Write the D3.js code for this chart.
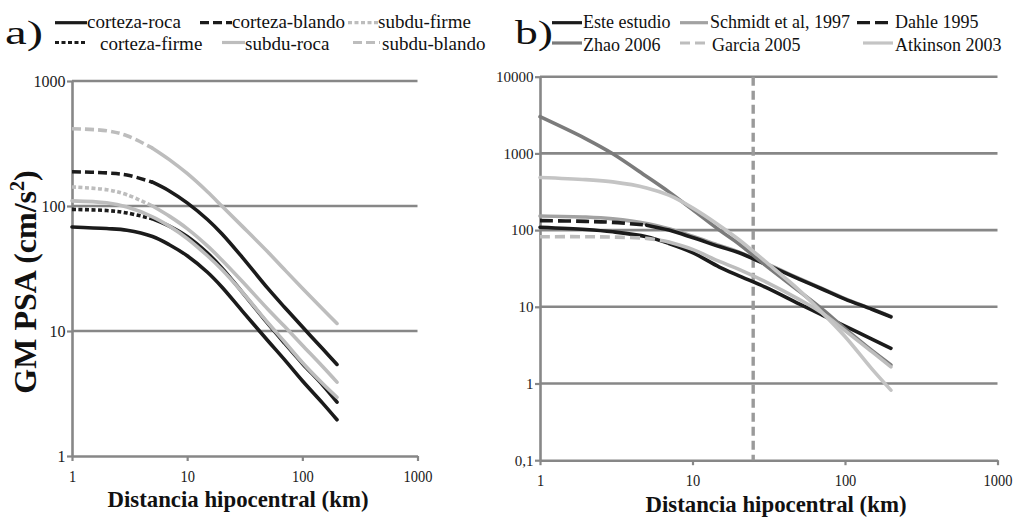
<!DOCTYPE html>
<html><head><meta charset="utf-8">
<script src="https://cdn.jsdelivr.net/npm/d3@7"></script>
<style>body{margin:0;background:#fff} svg{display:block} svg text{font-family:"Liberation Serif","DejaVu Serif",serif !important;}</style>
</head><body>
<svg id="chart" width="1022" height="523"></svg>
<script>
// ---------- DATA ----------
const distances = [1, 2, 3, 5, 7, 10, 15, 20, 30, 50, 70, 100, 150, 200];

// panel a)
const cortezaRoca   = [68, 66, 64, 57, 49, 40, 29.5, 22.5, 14.5, 8.4, 5.9, 4.0, 2.65, 1.95];
const cortezaBlando = [188, 184, 177, 155, 132, 106, 78, 60, 39, 22, 15.5, 10.8, 7.2, 5.4];
const subduFirme    = [142, 135, 123, 100, 83, 66, 48, 37, 25, 15, 10.9, 7.7, 5.2, 3.9];
const cortezaFirme  = [94, 92, 88, 79, 69, 57, 42, 32, 20.5, 11.5, 8.0, 5.5, 3.7, 2.7];
const subduRoca     = [110, 106, 98, 82, 69, 55, 40, 31, 20.5, 11.7, 8.2, 5.6, 3.8, 2.95];
const subduBlando   = [415, 400, 365, 290, 235, 182, 130, 100, 69, 43, 31, 22, 15, 11.5];
const seriesNamesA  = ["corteza-roca", "corteza-blando", "subdu-firme", "corteza-firme", "subdu-roca", "subdu-blando"];
const seriesValuesA = [cortezaRoca, cortezaBlando, subduFirme, cortezaFirme, subduRoca, subduBlando];

// panel b)
const esteEstudio  = [109, 102, 95, 82, 67, 51, 33, 25.5, 18, 10.9, 7.9, 5.6, 3.8, 2.88];
const schmidt1997  = [153, 148, 140, 122, 104, 83, 63, 52, 37, 23.5, 17.5, 12.8, 9.4, 7.5];
const dahle1995    = [133, 130, 126, 116, 100, 80, 61, 51, 36, 23, 17.2, 12.6, 9.3, 7.4];
const zhao2006     = [3010, 1550, 990, 500, 315, 185, 100, 67, 35, 16, 9.5, 5.2, 2.7, 1.75];
const garcia2005   = [82, 82, 81, 78, 70, 56, 39, 31, 21.3, 12.5, 8.4, 4.9, 2.6, 1.65];
const atkinson2003 = [485, 455, 425, 355, 285, 195, 115, 76, 39, 16.5, 8.6, 4.1, 1.55, 0.82];
const seriesNamesB  = ["Este estudio", "Schmidt et al, 1997", "Dahle 1995", "Zhao 2006", "Garcia 2005", "Atkinson 2003"];
const seriesValuesB = [esteEstudio, schmidt1997, dahle1995, zhao2006, garcia2005, atkinson2003];

const xTicks = [1, 10, 100, 1000];
const xTickLabels = ["1", "10", "100", "1000"];
const yTicksA = [1, 10, 100, 1000];
const yTickLabelsA = ["1", "10", "100", "1000"];
const yTicksB = [0.1, 1, 10, 100, 1000, 10000];
const yTickLabelsB = ["0,1", "1", "10", "100", "1000", "10000"];
const referenceDistanceB = 25;

const xTitle = "Distancia hipocentral (km)";
const yTitle = "GM PSA (cm/s";

// ---------- STYLE ----------
const BLACK = "#1b1b1b", LIGHT = "#bdbdbd", MID = "#a2a2a2", DARK = "#7b7b7b", GRID = "#878787";
const FONT = '"Liberation Serif","DejaVu Serif",serif';
const styleA = {
  "corteza-roca":   {color: BLACK},
  "corteza-firme":  {color: BLACK, dash: "4,2.5", dashUntil: 5},
  "corteza-blando": {color: BLACK, dash: "9,4", dashUntil: 5},
  "subdu-roca":     {color: LIGHT},
  "subdu-firme":    {color: LIGHT, dash: "4,2.5", dashUntil: 5},
  "subdu-blando":   {color: LIGHT, dash: "9,4", dashUntil: 5}
};
const styleB = {
  "Este estudio":        {color: BLACK},
  "Schmidt et al, 1997": {color: MID},
  "Dahle 1995":          {color: BLACK, dash: "13,5", dashUntil: 5},
  "Zhao 2006":           {color: DARK},
  "Garcia 2005":         {color: LIGHT, dash: "10,5", dashUntil: 7},
  "Atkinson 2003":       {color: "#c4c4c4"}
};

const svg = d3.select("#chart");

function drawPanel(p) {
  const x = d3.scaleLog().domain([1, 1000]).range([p.x0, p.x1]);
  const y = d3.scaleLog().domain(p.yDomain).range([p.yBottom, p.yTop]);
  const g = svg.append("g");

  g.selectAll("line.grid").data(p.yTicks.slice(1)).join("line")
    .attr("x1", p.x0).attr("x2", p.x1)
    .attr("y1", d => y(d)).attr("y2", d => y(d))
    .attr("stroke", GRID).attr("stroke-width", 2.6);

  const ax = g.append("g").attr("transform", `translate(0,${p.yBottom})`)
    .call(d3.axisBottom(x).tickValues(xTicks).tickFormat((d, i) => xTickLabels[i])
      .tickSize(5).tickSizeOuter(0).tickPadding(p.xPad));
  const ay = g.append("g").attr("transform", `translate(${p.x0},0)`)
    .call(d3.axisLeft(y).tickValues(p.yTicks).tickFormat((d, i) => p.yLabels[i])
      .tickSize(5).tickSizeOuter(0).tickPadding(1.5));
  [ax, ay].forEach(a => {
    a.attr("font-family", FONT);
    a.select(".domain").attr("stroke", GRID).attr("stroke-width", 2.6);
    a.selectAll(".tick line").attr("stroke", GRID).attr("stroke-width", 2.2);
    a.selectAll("text").attr("fill", "#1a1a1a");
  });
  ax.attr("font-size", 17);
  ay.attr("font-size", p.yFont);
  ax.selectAll("text").each(function () {
    const t = d3.select(this), w = this.getComputedTextLength();
    t.attr("textLength", w * 0.85).attr("lengthAdjust", "spacingAndGlyphs");
  });

  if (p.refX) {
    g.append("line").attr("x1", x(p.refX)).attr("x2", x(p.refX))
      .attr("y1", p.yTop).attr("y2", p.yBottom)
      .attr("stroke", "#9a9a9a").attr("stroke-width", 3.4).attr("stroke-dasharray", "9,5");
  }

  const line = d3.line().x(d => x(d[0])).y(d => y(d[1])).curve(d3.curveCatmullRom.alpha(0.5));
  p.names.forEach((name, i) => {
    const st = p.styles[name];
    const pts = distances.map((d, j) => [d, p.values[i][j]]);
    const add = (pp, dash) => g.append("path").attr("d", line(pp)).attr("fill", "none")
      .attr("stroke", st.color).attr("stroke-width", 3.6)
      .attr("stroke-dasharray", dash || null)
      .attr("stroke-linecap", dash ? "butt" : "round").attr("stroke-linejoin", "round");
    if (st.dash) {
      add(pts.filter(q => q[0] <= st.dashUntil), st.dash);
      add(pts.filter(q => q[0] >= st.dashUntil), null);
    } else add(pts, null);
  });

  g.append("text").attr("x", p.titleX).attr("y", p.titleY).attr("text-anchor", "middle")
    .attr("font-family", FONT).attr("font-size", 24).attr("font-weight", "bold").attr("fill", "#111")
    .attr("textLength", 261).attr("lengthAdjust", "spacingAndGlyphs").text(xTitle);

  const lg = g.append("g").attr("font-family", FONT);
  lg.append("text").attr("x", p.tag.x).attr("y", 44).attr("font-size", 34).attr("fill", "#111")
    .attr("textLength", 38).attr("lengthAdjust", "spacingAndGlyphs").text(p.tag.t);
  p.legend.forEach(it => {
    const st = p.styles[it.name];
    lg.append("line").attr("x1", it.lx0).attr("x2", it.lx1).attr("y1", it.ly).attr("y2", it.ly)
      .attr("stroke", st.color).attr("stroke-width", 3.2)
      .attr("stroke-dasharray", st.dash ? st.dash : null);
    lg.append("text").attr("x", it.tx).attr("y", it.ty).attr("font-size", p.legendFont)
      .attr("fill", "#111").text(it.name);
  });
}

drawPanel({
  x0: 72, x1: 417.5, yTop: 81, yBottom: 456, yDomain: [1, 1000],
  yTicks: yTicksA, yLabels: yTickLabelsA, yFont: 16, xPad: 9,
  names: seriesNamesA, values: seriesValuesA, styles: styleA,
  titleX: 238, titleY: 507, tag: {x: 5, t: "a)"}, legendFont: 19,
  legend: [
    {name: "corteza-roca",   lx0: 55,  lx1: 87,  ly: 22.7, tx: 87,  ty: 28.3},
    {name: "corteza-blando", lx0: 200, lx1: 232, ly: 22.7, tx: 232, ty: 28.3},
    {name: "subdu-firme",    lx0: 348, lx1: 378, ly: 22.7, tx: 378, ty: 28.3},
    {name: "corteza-firme",  lx0: 55,  lx1: 87,  ly: 42.5, tx: 100, ty: 50},
    {name: "subdu-roca",     lx0: 222, lx1: 245, ly: 42.5, tx: 245, ty: 50},
    {name: "subdu-blando",   lx0: 353, lx1: 380, ly: 42.5, tx: 382, ty: 50}
  ]
});

drawPanel({
  x0: 540, x1: 997.5, yTop: 76.7, yBottom: 460.2, yDomain: [0.1, 10000],
  yTicks: yTicksB, yLabels: yTickLabelsB, yFont: 15, xPad: 9,
  names: seriesNamesB, values: seriesValuesB, styles: styleB, refX: referenceDistanceB,
  titleX: 776, titleY: 512, tag: {x: 515, t: "b)"}, legendFont: 18,
  legend: [
    {name: "Este estudio",        lx0: 552, lx1: 582, ly: 22.7, tx: 583, ty: 28.3},
    {name: "Schmidt et al, 1997", lx0: 680, lx1: 708, ly: 22.7, tx: 710, ty: 28.3},
    {name: "Dahle 1995",          lx0: 857, lx1: 893, ly: 22.7, tx: 895, ty: 28.3},
    {name: "Zhao 2006",           lx0: 552, lx1: 582, ly: 43,   tx: 583, ty: 50.5},
    {name: "Garcia 2005",         lx0: 680, lx1: 710, ly: 43,   tx: 712, ty: 50.5},
    {name: "Atkinson 2003",       lx0: 863, lx1: 893, ly: 43,   tx: 895, ty: 50.5}
  ]
});

const yt = svg.append("text").attr("transform", "translate(36,282) rotate(-90)")
  .attr("text-anchor", "middle").attr("font-family", FONT).attr("font-size", 32)
  .attr("font-weight", "bold").attr("fill", "#111");
yt.append("tspan").text(yTitle);
yt.append("tspan").attr("dy", -12).attr("font-size", 20).text("2");
yt.append("tspan").attr("dy", 12).text(")");
</script>
</body></html>
